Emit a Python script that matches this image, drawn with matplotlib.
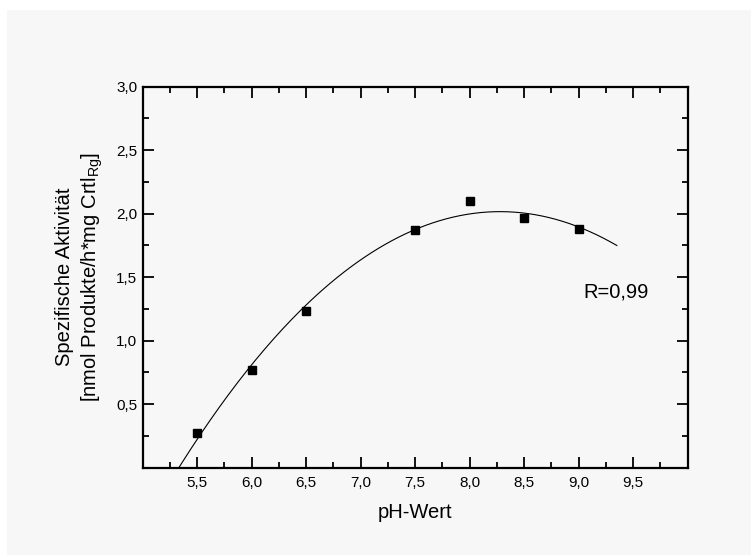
import numpy as np
import matplotlib
matplotlib.use("Agg")
import matplotlib.pyplot as plt
from matplotlib.ticker import MultipleLocator
from matplotlib.patches import Rectangle

plt.rcParams['font.family'] = ['Liberation Sans', 'DejaVu Sans']
plt.rcParams['mathtext.fontset'] = 'custom'
plt.rcParams['mathtext.rm'] = 'Liberation Sans'
plt.rcParams['mathtext.it'] = 'Liberation Sans:italic'

# data
ph = [5.5, 6.0, 6.5, 7.5, 8.0, 8.5, 9.0]
aktivitaet = [0.275, 0.767, 1.23, 1.874, 2.10, 1.968, 1.876]

x_ticks = [5.5, 6.0, 6.5, 7.0, 7.5, 8.0, 8.5, 9.0, 9.5]
y_ticks = [0.5, 1.0, 1.5, 2.0, 2.5, 3.0]
x_labels = ["5,5", "6,0", "6,5", "7,0", "7,5", "8,0", "8,5", "9,0", "9,5"]
y_labels = ["0,5", "1,0", "1,5", "2,0", "2,5", "3,0"]
r_text = "R=0,99"

fig = plt.figure(figsize=(7.51, 5.55), dpi=100, facecolor='white')
# grey page behind the plot
fig.patches.append(Rectangle((7/751, 0), 1, 1 - 10/555, transform=fig.transFigure,
                             facecolor='#f7f7f7', edgecolor='none', zorder=-10))

ax = fig.add_axes([0.190, 0.1573, 0.7257, 0.6865])
ax.set_facecolor('#f7f7f7')

# quadratic fit through the points
coef = np.polyfit(ph, aktivitaet, 2)
xf = np.linspace(5.2, 9.35, 200)
ax.plot(xf, np.polyval(coef, xf), color='black', lw=0.8)
ax.plot(ph, aktivitaet, 's', color='black', ms=6, zorder=3)

ax.set_xlim(5.0, 10.0)
ax.set_ylim(0.0, 3.0)
ax.set_xticks(x_ticks)
ax.set_xticklabels(x_labels)
ax.set_yticks(y_ticks)
ax.set_yticklabels(y_labels)
ax.xaxis.set_minor_locator(MultipleLocator(0.25))
ax.yaxis.set_minor_locator(MultipleLocator(0.25))

ax.tick_params(which='both', direction='in', top=True, right=True, width=1.3, labelsize=11)
ax.tick_params(which='major', length=8)
ax.tick_params(which='minor', length=4)
ax.tick_params(axis='x', pad=6)
ax.tick_params(axis='y', pad=4)
for s in ax.spines.values():
    s.set_linewidth(1.6)

ax.set_xlabel("pH-Wert", fontsize=14.5, labelpad=9)
ax.set_ylabel("Spezifische Aktivität\n[nmol Produkte/h*mg Crtl$_{\\mathrm{Rg}}$]",
              fontsize=14.5, labelpad=8, linespacing=1.3)

ax.text(9.04, 1.38, r_text, fontsize=14.5, va='center', ha='left')

fig.savefig("out.png", dpi=100, facecolor=fig.get_facecolor())
